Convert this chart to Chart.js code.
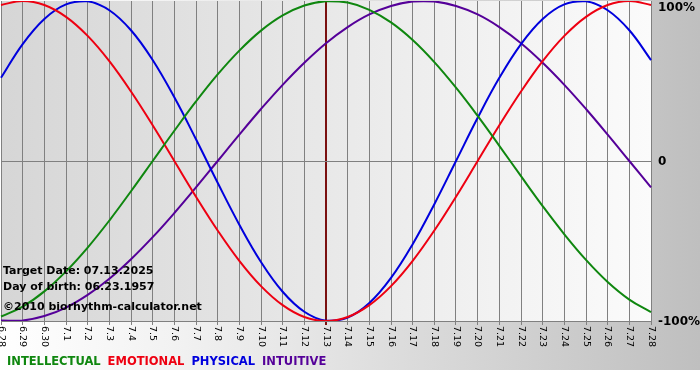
<!DOCTYPE html>
<html>
<head>
<meta charset="utf-8">
<script src="https://cdn.jsdelivr.net/npm/chart.js@4"></script>
<style>
  html, body { margin: 0; padding: 0; background: #fff; }
  canvas { display: block; }
</style>
</head>
<body>
<canvas id="bio" width="700" height="380"></canvas>
<script>
// dates shown under the chart
const days = ['6.28', '6.29', '6.30', '7.1', '7.2', '7.3', '7.4', '7.5', '7.6', '7.7',
    '7.8', '7.9', '7.10', '7.11', '7.12', '7.13', '7.14', '7.15', '7.16', '7.17',
    '7.18', '7.19', '7.20', '7.21', '7.22', '7.23', '7.24', '7.25', '7.26', '7.27', '7.28'];

// cycle values in percent, one per day
const physical = [52.0, 73.1, 88.8, 97.9, 99.8, 94.2, 81.7, 63.1, 39.8, 13.6,
    -13.6, -39.8, -63.1, -81.7, -94.2, -99.8, -97.9, -88.8, -73.1, -52.0,
    -27.0, 0, 27.0, 52.0, 73.1, 88.8, 97.9, 99.8, 94.2, 81.7, 63.1];
const emotional = [97.5, 100, 97.5, 90.1, 78.2, 62.4, 43.4, 22.3, 0, -22.3,
    -43.4, -62.4, -78.2, -90.1, -97.5, -100, -97.5, -90.1, -78.2, -62.4,
    -43.4, -22.3, 0, 22.3, 43.4, 62.4, 78.2, 90.1, 97.5, 100, 97.5];
const intellectual = [-97.2, -91.0, -81.5, -69.0, -54.1, -37.2, -18.9, 0, 18.9, 37.2,
    54.1, 69.0, 81.5, 91.0, 97.2, 99.9, 99.0, 94.5, 86.6, 75.6,
    61.8, 45.8, 28.2, 9.5, -9.5, -28.2, -45.8, -61.8, -75.6, -86.6, -94.5];
const intuitive = [-99.7, -99.7, -96.9, -91.6, -83.7, -73.6, -61.4, -47.6, -32.5, -16.5,
    0, 16.5, 32.5, 47.6, 61.4, 73.6, 83.7, 91.6, 96.9, 99.7,
    99.7, 96.9, 91.6, 83.7, 73.6, 61.4, 47.6, 32.5, 16.5, 0, -16.5];

const yTicks = [100, 0, -100];
const yTickLabels = ['100%', '0', '-100%'];
const targetDay = '7.13';
const infoLines = ['Target Date: 07.13.2025', 'Day of birth: 06.23.1957', '\u00a92010 biorhythm-calculator.net'];
const legendNames = ['INTELLECTUAL', 'EMOTIONAL', 'PHYSICAL', 'INTUITIVE'];
const legendColors = ['#0f870f', '#ee0011', '#0000dd', '#550099'];

const targetIndex = days.indexOf(targetDay);

const decor = {
    id: 'decor',
    beforeDraw(chart) {
        const ctx = chart.ctx;
        const area = chart.chartArea;
        ctx.save();
        ctx.fillStyle = '#ffffff';
        ctx.fillRect(0, 0, 700, 380);

        let g = ctx.createLinearGradient(0, 0, 700, 0);
        g.addColorStop(0, '#ffffff');
        g.addColorStop(0.25, '#f2f2f2');
        g.addColorStop(1, '#bfbfbf');
        ctx.fillStyle = g;
        ctx.fillRect(0, 0, 700, 370);

        g = ctx.createLinearGradient(area.left, 0, area.right, 0);
        g.addColorStop(0, '#d6d6d6');
        g.addColorStop(1, '#fbfbfb');
        ctx.fillStyle = g;
        ctx.fillRect(area.left, area.top, area.right - area.left, area.bottom - area.top);
        ctx.restore();
    },
    afterDraw(chart) {
        const ctx = chart.ctx;
        const x = chart.scales.x;
        const y = chart.scales.y;
        const area = chart.chartArea;
        ctx.save();

        // date labels, turned to read downward
        ctx.fillStyle = '#000';
        ctx.font = '9.5px "DejaVu Sans"';
        ctx.textAlign = 'left';
        ctx.textBaseline = 'middle';
        days.forEach((d, i) => {
            const px = x.getPixelForValue(i);
            ctx.save();
            ctx.translate(px, area.bottom + 5);
            ctx.rotate(Math.PI / 2);
            ctx.fillText(d, 0, 0);
            ctx.restore();
        });

        // percent labels on the right, kept inside the canvas
        ctx.font = 'bold 12px "DejaVu Sans"';
        yTicks.forEach((v, i) => {
            const py = Math.max(y.getPixelForValue(v) + 1, 8);
            ctx.fillText(yTickLabels[i], area.right + 7, py);
        });

        // info text
        ctx.font = 'bold 11px "DejaVu Sans"';
        ctx.fillText(infoLines[0], 3, 271);
        ctx.fillText(infoLines[1], 3, 287);
        ctx.fillText(infoLines[2], 3, 307);

        // legend
        ctx.font = 'bold 11.5px "DejaVu Sans"';
        let lx = 7;
        legendNames.forEach((name, i) => {
            ctx.fillStyle = legendColors[i];
            ctx.fillText(name, lx, 362);
            lx += ctx.measureText(name).width + 7;
        });
        ctx.restore();
    }
};

new Chart(document.getElementById('bio'), {
    type: 'line',
    data: {
        labels: days,
        datasets: [
            { label: 'INTELLECTUAL', data: intellectual, borderColor: '#0f870f' },
            { label: 'EMOTIONAL', data: emotional, borderColor: '#ee0011' },
            { label: 'PHYSICAL', data: physical, borderColor: '#0000dd' },
            { label: 'INTUITIVE', data: intuitive, borderColor: '#550099' }
        ].map(ds => Object.assign(ds, {
            borderWidth: 2,
            pointRadius: 0,
            tension: 0.4,
            fill: false
        }))
    },
    options: {
        responsive: false,
        animation: false,
        devicePixelRatio: 1,
        layout: { padding: { left: 1, top: 1, right: 49, bottom: 55 } },
        plugins: { legend: { display: false }, tooltip: { enabled: false } },
        scales: {
            x: {
                offset: false,
                ticks: { display: false },
                border: { display: true, color: '#808080' },
                grid: {
                    drawTicks: true,
                    tickLength: 4,
                    color: c => c.index === targetIndex ? '#7a1010' : '#808080',
                    lineWidth: c => c.index === targetIndex ? 2 : 1
                }
            },
            y: {
                position: 'right',
                min: -100,
                max: 100,
                ticks: { display: false, stepSize: 100 },
                border: { display: false },
                grid: {
                    drawTicks: false,
                    color: c => c.tick && c.tick.value < 100 ? '#808080' : 'rgba(0,0,0,0)'
                }
            }
        }
    },
    plugins: [decor]
});
</script>
</body>
</html>
